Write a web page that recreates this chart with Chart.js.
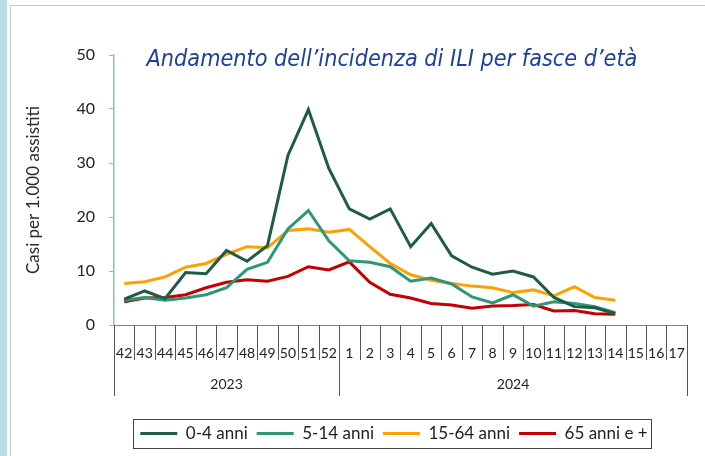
<!DOCTYPE html>
<html>
	<head>
		<meta charset="UTF-8">
		<title>Andamento ILI</title>
		<script src="https://cdn.jsdelivr.net/npm/chart.js"></script>
		<style>
			* {padding: 0; margin: 0;}
			body {background: #fff;}
			canvas {display: block;}
		</style>
	</head>
	<body>
		<canvas id="myChart" width="705" height="456"></canvas>
		<script>
			// settimane (asse x) e anni
			const weeks = ['42','43','44','45','46','47','48','49','50','51','52',
				'1','2','3','4','5','6','7','8','9','10','11','12','13','14','15','16','17'];
			const years = ['2023', '2024'];
			const yearSpans = [11, 17]; // quante settimane per anno

			// casi per 1.000 assistiti
			const age0_4 = [4.8, 6.3, 4.9, 9.7, 9.5, 13.8, 11.8, 14.7, 31.4, 39.9, 29.0,
				21.5, 19.6, 21.5, 14.5, 18.8, 12.8, 10.7, 9.4, 10.0, 8.9, 5.1, 3.4, 3.2, 2.1, null, null, null];
			const age5_14 = [4.6, 5.1, 4.6, 5.0, 5.6, 6.9, 10.3, 11.6, 17.8, 21.2, 15.6,
				11.9, 11.6, 10.8, 8.1, 8.7, 7.6, 5.2, 4.1, 5.6, 3.5, 4.3, 4.0, 3.4, 2.3, null, null, null];
			const age15_64 = [7.7, 8.0, 8.9, 10.7, 11.4, 13.1, 14.5, 14.3, 17.5, 17.8, 17.2,
				17.7, 14.5, 11.4, 9.3, 8.3, 7.7, 7.2, 6.9, 6.0, 6.5, 5.4, 7.1, 5.1, 4.6, null, null, null];
			const age65 = [4.3, 5.0, 5.1, 5.6, 6.9, 7.9, 8.4, 8.1, 9.0, 10.8, 10.2,
				11.7, 7.9, 5.7, 5.0, 4.0, 3.7, 3.1, 3.5, 3.6, 3.8, 2.6, 2.7, 2.1, 2.0, null, null, null];

			const seriesLabels = ['0-4 anni', '5-14 anni', '15-64 anni', '65 anni e +'];
			const seriesColors = ['#1e5c45', '#2f9678', '#ffa000', '#c40000'];
			const yTicks = [0, 10, 20, 30, 40, 50];

			const chartTitle = 'Andamento dell\u2019incidenza di ILI per fasce d\u2019et\u00e0';
			const yTitle = 'Casi per 1.000 assistiti';

			Chart.defaults.font.family = 'Lato, "Open Sans", sans-serif';
			Chart.defaults.color = '#222';

			// cornice, separatori, anni, titolo, riquadro legenda
			const decor = {
				id: 'decor',
				afterLayout(chart) {
					// la legenda nell'originale e' spostata a destra
					const lg = chart.legend;
					const shift = 394 - (lg.left + lg.right) / 2;
					lg.left += shift;
					lg.right += shift;
				},
				beforeDraw(chart) {
					const ctx = chart.ctx;
					ctx.save();
					ctx.fillStyle = '#b7dee3';
					ctx.fillRect(0, 0, 7, chart.height);
					ctx.strokeStyle = '#c9c9c9';
					ctx.lineWidth = 1;
					ctx.beginPath();
					ctx.moveTo(10.5, chart.height);
					ctx.lineTo(10.5, 5.5);
					ctx.lineTo(chart.width, 5.5);
					ctx.stroke();
					ctx.restore();
				},
				afterDraw(chart) {
					const ctx = chart.ctx;
					const x = chart.scales.x;
					const area = chart.chartArea;
					const step = x.getPixelForValue(1) - x.getPixelForValue(0);
					const bounds = [0];
					let acc = 0;
					yearSpans.forEach(n => { acc += n; bounds.push(acc); });

					ctx.save();
					ctx.strokeStyle = '#555';
					ctx.lineWidth = 1;
					for (let i = 0; i <= weeks.length; i++) {
						const px = Math.round(x.getPixelForValue(i) - step / 2) + 0.5;
						const len = bounds.includes(i) ? 71 : 35;
						ctx.beginPath();
						ctx.moveTo(px, area.bottom);
						ctx.lineTo(px, area.bottom + len);
						ctx.stroke();
					}

					// anni
					ctx.fillStyle = '#222';
					ctx.font = '14px Lato, "Open Sans", sans-serif';
					ctx.textAlign = 'center';
					ctx.textBaseline = 'middle';
					for (let k = 0; k < years.length; k++) {
						const a = x.getPixelForValue(bounds[k]) - step / 2;
						const b = x.getPixelForValue(bounds[k + 1]) - step / 2;
						ctx.fillText(years[k], (a + b) / 2, area.bottom + 59);
					}

					// titolo del grafico
					ctx.fillStyle = '#1c3fa0';
					let size = 24;
					ctx.font = 'italic ' + size + 'px "Liberation Sans Narrow", "DejaVu Sans Condensed", sans-serif';
					const w = ctx.measureText(chartTitle).width;
					size = size * 490 / w;
					ctx.font = 'italic ' + size.toFixed(1) + 'px "Liberation Sans Narrow", "DejaVu Sans Condensed", sans-serif';
					ctx.textAlign = 'center';
					ctx.textBaseline = 'alphabetic';
					ctx.fillText(chartTitle, 392, 66);
					ctx.restore();

					// riquadro legenda
					const boxes = chart.legend.legendHitBoxes;
					if (boxes && boxes.length) {
						const l = Math.min(...boxes.map(b => b.left)) - 7;
						const r = Math.max(...boxes.map(b => b.left + b.width)) + 4;
						const t = Math.min(...boxes.map(b => b.top)) - 6;
						const bt = Math.max(...boxes.map(b => b.top + b.height)) + 6;
						ctx.save();
						ctx.strokeStyle = '#444';
						ctx.lineWidth = 1;
						ctx.strokeRect(Math.round(l) + 0.5, Math.round(t) + 0.5, Math.round(r - l), Math.round(bt - t));
						ctx.restore();
					}
				}
			};

			const ctx = document.getElementById('myChart');
			const dataSets = [age0_4, age5_14, age15_64, age65].map((arr, i) => ({
				label: seriesLabels[i],
				data: arr,
				borderColor: seriesColors[i],
				backgroundColor: seriesColors[i],
				borderWidth: 3,
				pointRadius: 0,
				tension: 0,
				spanGaps: false
			}));

			new Chart(ctx, {
				type: 'line',
				data: {
					labels: weeks,
					datasets: dataSets
				},
				options: {
					responsive: false,
					animation: false,
					devicePixelRatio: 1,
					layout: {
						padding: {left: 0, right: 10, top: 55, bottom: 4}
					},
					plugins: {
						title: {display: false},
						tooltip: {enabled: false},
						legend: {
							position: 'bottom',
							labels: {
								usePointStyle: true,
								pointStyle: 'line',
								pointStyleWidth: 37,
								boxHeight: 3,
								padding: 9,
								color: '#222',
								font: {size: 17}
							}
						}
					},
					scales: {
						x: {
							offset: true,
							grid: {display: false, drawTicks: false},
							border: {color: '#808080', width: 1},
							ticks: {
								autoSkip: false,
								maxRotation: 0,
								padding: 20,
								font: {size: 14},
								color: '#222'
							},
							afterFit(scale) { scale.height = 91; }
						},
						y: {
							min: 0,
							max: 50,
							afterBuildTicks(scale) {
								scale.ticks = yTicks.map(v => ({value: v}));
							},
							title: {
								display: true,
								text: yTitle,
								color: '#2a2a2a',
								font: {size: 17},
								padding: {top: 23, bottom: 0}
							},
							grid: {
								display: true,
								drawOnChartArea: false,
								drawTicks: true,
								tickLength: 5,
								color: '#8ac4ae'
							},
							border: {color: '#8ac4ae', width: 1.5},
							ticks: {
								padding: 14,
								font: {size: 16},
								color: '#222'
							},
							afterFit(scale) { scale.width = 114; }
						}
					}
				},
				plugins: [decor]
			});
		</script>
	</body>
</html>
